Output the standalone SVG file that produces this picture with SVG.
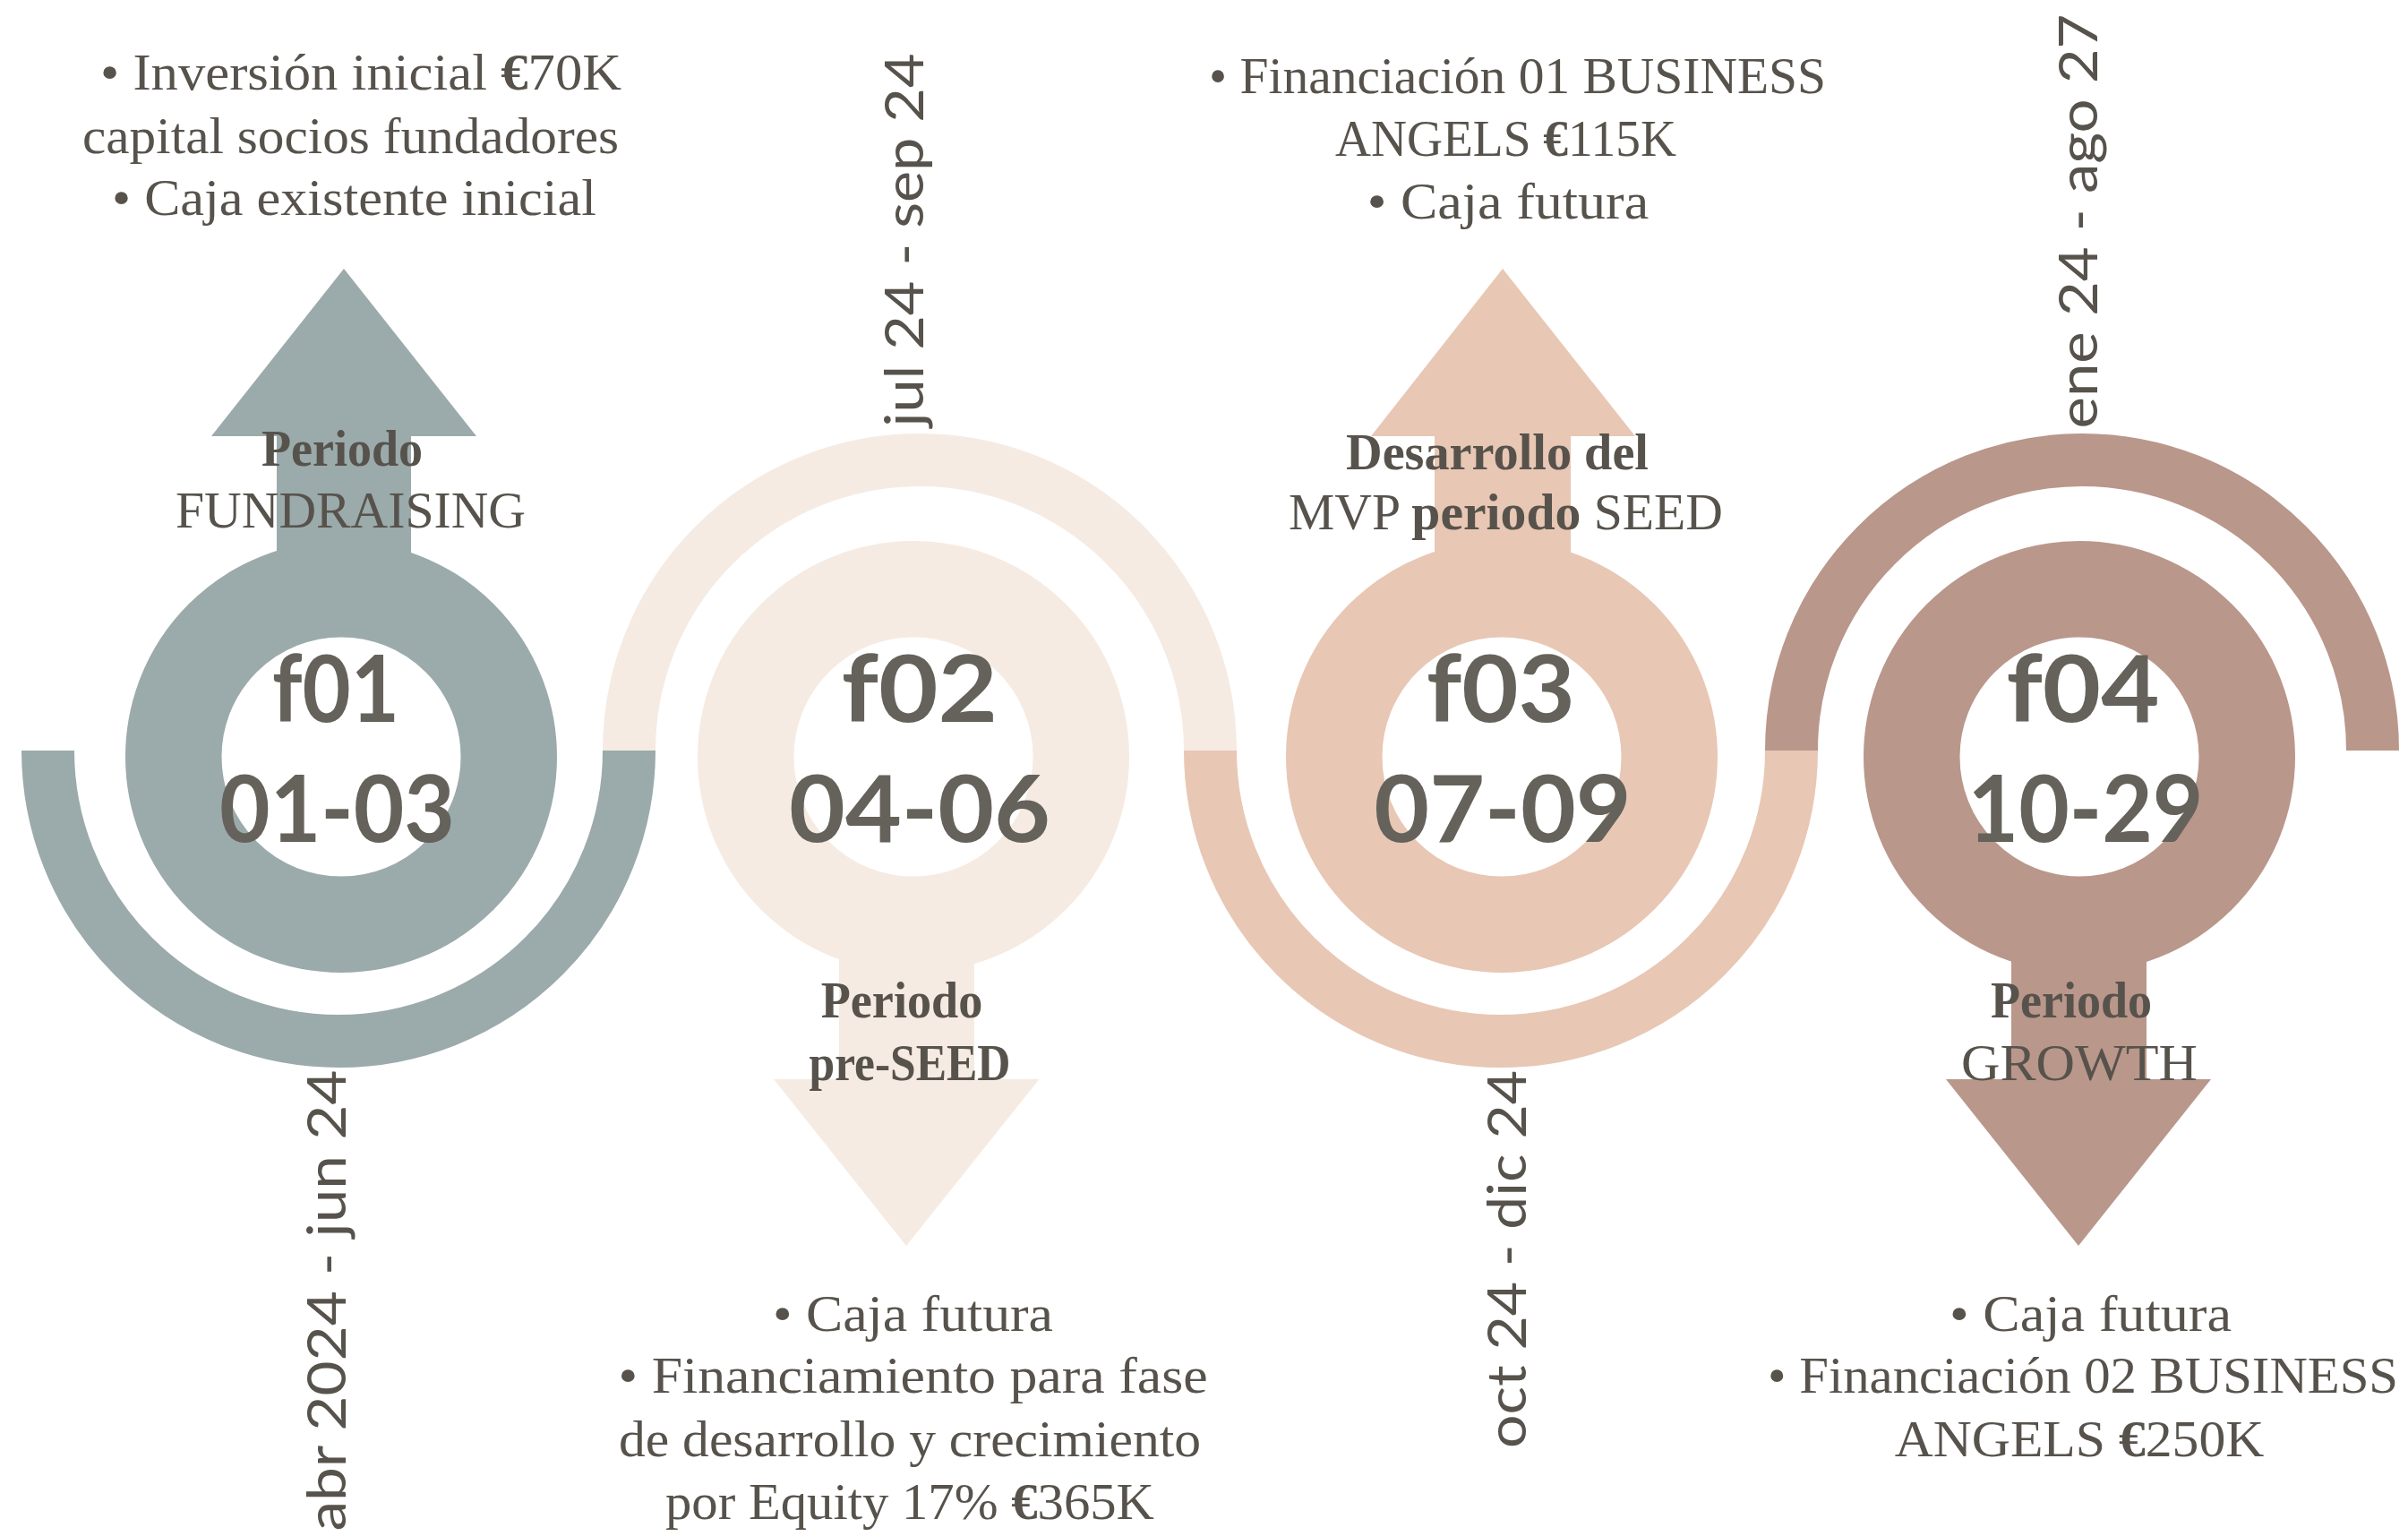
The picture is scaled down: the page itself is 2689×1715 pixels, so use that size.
<svg xmlns="http://www.w3.org/2000/svg" width="2689" height="1715" viewBox="0 0 2689 1715">
<style>
.t{font-family:"Liberation Serif","DejaVu Serif",serif;font-size:58px;fill:#57534c;text-anchor:middle}
.b{font-weight:bold}
.num{font-family:Lato,"Noto Sans",sans-serif;font-weight:bold;font-size:104px;fill:#65625b;text-anchor:middle}
.date{font-family:Lato,"Noto Sans",sans-serif;font-size:60px;fill:#57534c;text-anchor:middle}
.band{fill:none;stroke-width:59;stroke-linecap:butt}
.ring{fill:none;stroke-width:107.5}
.c1{fill:#9baaab}.c2{fill:#f5ebe2}.c3{fill:#e8c7b4}.c4{fill:#ba978b}
.s1{stroke:#9baaab}.s2{stroke:#f5ebe2}.s3{stroke:#e8c7b4}.s4{stroke:#ba978b}
</style>
<rect width="2689" height="1715" fill="#ffffff"/>
<g id="connectors">
<path class="band s1" d="M53.5 838 A324.5 324.5 0 0 0 702.5 838"/>
<path class="band s2" d="M702.5 838 A324.5 324.5 0 0 1 1351.5 838"/>
<path class="band s3" d="M1351.5 838 A324.5 324.5 0 0 0 2000.5 838"/>
<path class="band s4" d="M2000.5 838 A324.5 324.5 0 0 1 2649.5 838"/>
</g>
<g id="node-f01">
<rect class="c1" x="309" y="486" width="150" height="205"/>
<polygon class="c1" points="236,487 532,487 384,300"/>
<circle class="ring s1" cx="381" cy="845" r="187.25"/>
<text class="t" x="403" y="100" textLength="582" lengthAdjust="spacingAndGlyphs">• Inversión inicial <tspan class="b">€</tspan>70K</text>
<text class="t" x="391.5" y="171" textLength="599" lengthAdjust="spacingAndGlyphs">capital socios fundadores</text>
<text class="t" x="395.5" y="240" textLength="541" lengthAdjust="spacingAndGlyphs">• Caja existente inicial</text>
<text class="t b" x="382" y="520" textLength="180" lengthAdjust="spacingAndGlyphs">Periodo</text>
<text class="t" x="391.5" y="589" textLength="391" lengthAdjust="spacingAndGlyphs">FUNDRAISING</text>
<text class="num" x="375" y="806" textLength="142" lengthAdjust="spacingAndGlyphs">f01</text>
<text class="num" x="376.5" y="940" textLength="263" lengthAdjust="spacingAndGlyphs">01-03</text>
<text class="date" transform="translate(386 1452) rotate(-90)" textLength="515" lengthAdjust="spacingAndGlyphs">abr 2024 - jun 24</text>
</g>
<g id="node-f02">
<rect class="c2" x="937" y="1000" width="151" height="206"/>
<polygon class="c2" points="864,1205 1160.5,1205 1012,1391"/>
<circle class="ring s2" cx="1020" cy="845" r="187.25"/>
<text class="num" x="1027" y="806" textLength="174.5" lengthAdjust="spacingAndGlyphs">f02</text>
<text class="num" x="1027" y="940" textLength="292" lengthAdjust="spacingAndGlyphs">04-06</text>
<text class="t b" x="1007" y="1136" textLength="180.5" lengthAdjust="spacingAndGlyphs">Periodo</text>
<text class="t b" x="1016" y="1206" textLength="225" lengthAdjust="spacingAndGlyphs">pre-SEED</text>
<text class="t" x="1019.5" y="1486" textLength="313" lengthAdjust="spacingAndGlyphs">• Caja futura</text>
<text class="t" x="1019.6" y="1555" textLength="658" lengthAdjust="spacingAndGlyphs">• Financiamiento para fase</text>
<text class="t" x="1016" y="1626" textLength="650" lengthAdjust="spacingAndGlyphs">de desarrollo y crecimiento</text>
<text class="t" x="1016" y="1696" textLength="546" lengthAdjust="spacingAndGlyphs">por Equity 17% <tspan class="b">€</tspan>365K</text>
<text class="date" transform="translate(1031 268) rotate(-90)" textLength="417" lengthAdjust="spacingAndGlyphs">jul 24 - sep 24</text>
</g>
<g id="node-f03">
<rect class="c3" x="1602" y="486" width="152" height="205"/>
<polygon class="c3" points="1531,487 1826,487 1678,300"/>
<circle class="ring s3" cx="1677" cy="845" r="187.25"/>
<text class="t" x="1694.5" y="104" textLength="689" lengthAdjust="spacingAndGlyphs">• Financiación 01 BUSINESS</text>
<text class="t" x="1681.5" y="174" textLength="381" lengthAdjust="spacingAndGlyphs">ANGELS <tspan class="b">€</tspan>115K</text>
<text class="t" x="1684" y="244" textLength="314.6" lengthAdjust="spacingAndGlyphs">• Caja futura</text>
<text class="t b" x="1672" y="524" textLength="338" lengthAdjust="spacingAndGlyphs">Desarrollo del</text>
<text class="t" x="1681.5" y="591" textLength="485" lengthAdjust="spacingAndGlyphs">MVP <tspan class="b">periodo</tspan> SEED</text>
<text class="num" x="1676" y="806" textLength="166" lengthAdjust="spacingAndGlyphs">f03</text>
<text class="num" x="1678" y="940" textLength="287.5" lengthAdjust="spacingAndGlyphs">07-09</text>
<text class="date" transform="translate(1704 1406) rotate(-90)" textLength="422" lengthAdjust="spacingAndGlyphs">oct 24 - dic 24</text>
</g>
<g id="node-f04">
<rect class="c4" x="2246" y="1000" width="151" height="206"/>
<polygon class="c4" points="2173,1205 2469,1205 2321,1391"/>
<circle class="ring s4" cx="2322" cy="845" r="187.25"/>
<text class="num" x="2326" y="806" textLength="171" lengthAdjust="spacingAndGlyphs">f04</text>
<text class="num" x="2329" y="940" textLength="263" lengthAdjust="spacingAndGlyphs">10-29</text>
<text class="t b" x="2313" y="1136" textLength="180" lengthAdjust="spacingAndGlyphs">Periodo</text>
<text class="t" x="2322" y="1206" textLength="264" lengthAdjust="spacingAndGlyphs">GROWTH</text>
<text class="t" x="2334.5" y="1486" textLength="315" lengthAdjust="spacingAndGlyphs">• Caja futura</text>
<text class="t" x="2326" y="1555" textLength="704" lengthAdjust="spacingAndGlyphs">• Financiación 02 BUSINESS</text>
<text class="t" x="2322" y="1626" textLength="412.7" lengthAdjust="spacingAndGlyphs">ANGELS <tspan class="b">€</tspan>250K</text>
<text class="date" transform="translate(2342 247) rotate(-90)" textLength="463" lengthAdjust="spacingAndGlyphs">ene 24 - ago 27</text>
</g>
</svg>
